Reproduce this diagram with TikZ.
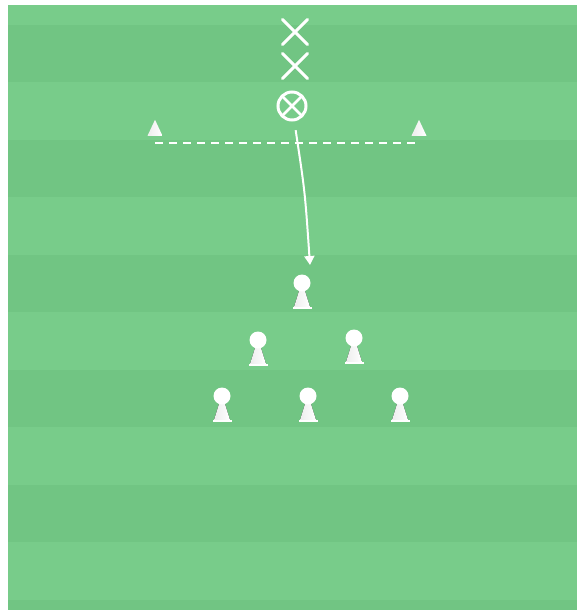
\documentclass[tikz,border=0pt]{standalone}
\usepackage{xcolor}
\usepackage{tikz}
\usetikzlibrary{
    arrows.meta,
    shapes.geometric,
    shapes.misc
}

\definecolor{pitchlight}{RGB}{120,204,138}
\definecolor{pitchdark}{RGB}{113,197,131}

\begin{document}
\begin{tikzpicture}[
    x=1pt, y=-1pt,
    attacker/.style={
        cross out,
        draw=white,
        line width=3pt,
        line cap=round,
        minimum size=22pt,
        inner sep=0pt
    },
    carrier/.style={
        circle,
        draw=white,
        line width=3pt,
        minimum size=28pt,
        inner sep=0pt,
        path picture={
            \draw[white, line width=2.5pt]
                (path picture bounding box.south west) -- (path picture bounding box.north east)
                (path picture bounding box.north west) -- (path picture bounding box.south east);
        }
    },
    cone/.style={
        isosceles triangle,
        isosceles triangle stretches,
        shape border rotate=90,
        left color=black!7,
        right color=white,
        draw=none,
        minimum height=16pt,
        minimum width=15pt,
        inner sep=0pt,
        anchor=south
    },
    cordon/.style={
        white,
        line width=2pt,
        dash pattern=on 8pt off 6pt
    },
    run/.style={
        -{Triangle[width=10pt,length=9pt]},
        white,
        line width=2pt,
        shorten <=9pt
    },
    defender/.pic={
        \fill[left color=black!7, right color=white] (-3,8) -- (3,8) -- (8,24) -- (-8,24) -- cycle;
        \fill[white] (-9.5,23.5) rectangle (9.5,26);
        \node[circle, fill=white, minimum size=17pt, inner sep=0pt] (-head) at (0,0) {};
    }
]

\useasboundingbox (0,0) rectangle (582,610);
\fill[white] (0,0) rectangle (582,610);
\fill[pitchlight] (8,5) rectangle (577,610);
\foreach \y in {25,140,255,370,485,600}
    \fill[pitchdark] (8,\y) rectangle (577,{min(\y+57,610)});

\node[attacker] (att1) at (295,32) {};
\node[attacker] (att2) at (295,66) {};
\node[carrier] (ball) at (292,106) {};

\node[cone] (coneL) at (155,136) {};
\node[cone] (coneR) at (419,136) {};

\draw[cordon] ([yshift=-7pt]coneL.south) -- ([xshift=-4pt,yshift=-7pt]coneR.south);

\pic (d1) at (302,283) {defender};
\pic (d2) at (258,340) {defender};
\pic (d3) at (354,338) {defender};
\pic (d4) at (222,396) {defender};
\pic (d5) at (308,396) {defender};
\pic (d6) at (400,396) {defender};

\coordinate (runend) at (310,265);

\draw[run] (ball) .. controls (305,192) .. (runend);

\end{tikzpicture}
\end{document}
